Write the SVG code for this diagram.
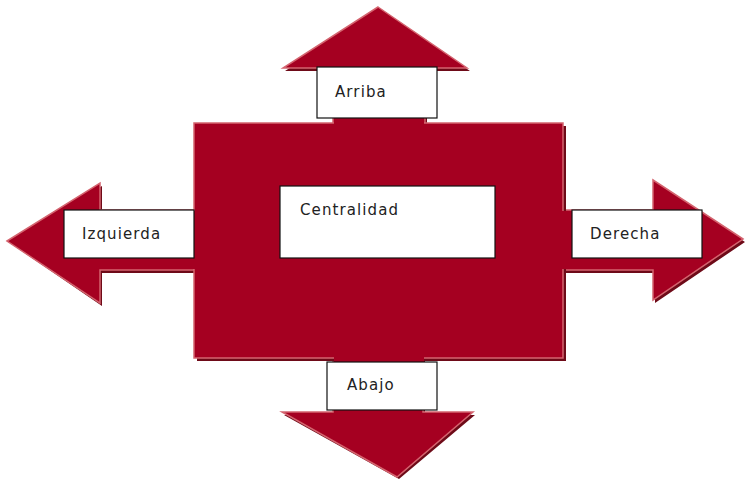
<svg xmlns="http://www.w3.org/2000/svg" width="745" height="479" viewBox="0 0 745 479">
<defs>
<style>
.sh{fill:#6e0a18}
.body{fill:#a50021;stroke:#d4646f;stroke-width:1.5}
.fill{fill:#a50021}
.lbl{fill:#fff;stroke:#111;stroke-width:1.2}
.t{font-family:"DejaVu Sans",Verdana,sans-serif;font-size:15px;fill:#222;letter-spacing:1.1px}
</style>
</defs>
<rect width="745" height="479" fill="#fff"/>
<g id="connectors">
<g id="arrow-up">
<polygon class="sh" points="380,10 470,71 427,71 427,125 335,125 335,71 285,71"/>
<polygon class="body" points="378,7 467,68 425,68 425,123 333,123 333,68 283,68"/>
</g>
<g id="arrow-left">
<polygon class="sh" points="10,243 102,186 102,213 196,213 196,273 102,273 102,306"/>
<polygon class="body" points="7,241 100,183 100,210 194,210 194,270 100,270 100,303"/>
</g>
<g id="arrow-right">
<polygon class="sh" points="745,242 655,183 655,213 565,213 565,273 655,273 655,303"/>
<polygon class="body" points="743,239 653,180 653,210 563,210 563,270 653,270 653,300"/>
</g>
<g id="arrow-down">
<polygon class="sh" points="284,415 335,415 335,360 425,360 425,415 475,415 399,479"/>
<polygon class="body" points="282,412 333,412 333,358 423,358 423,412 473,412 397,477"/>
</g>
</g>
<g id="centro">
<rect x="197" y="126" width="369" height="235" class="sh"/>
<rect x="194" y="123" width="369" height="235" class="body"/>
<rect x="334" y="117" width="90" height="9" class="fill"/>
<rect x="188" y="211" width="10" height="58" class="fill"/>
<rect x="559" y="211" width="10" height="58" class="fill"/>
<rect x="334" y="355" width="90" height="9" class="fill"/>
</g>
<g id="centralidad">
<rect x="280" y="186" width="215" height="72" class="lbl"/>
<text class="t" x="300" y="215">Centralidad</text>
</g>
<g id="arriba">
<rect x="317" y="67" width="120" height="51" class="lbl"/>
<text class="t" x="335" y="97">Arriba</text>
</g>
<g id="izquierda">
<rect x="64" y="210" width="130" height="48" class="lbl"/>
<text class="t" x="82" y="239">Izquierda</text>
</g>
<g id="derecha">
<rect x="572" y="210" width="130" height="48" class="lbl"/>
<text class="t" x="590" y="239">Derecha</text>
</g>
<g id="abajo">
<rect x="327" y="362" width="110" height="48" class="lbl"/>
<text class="t" x="347" y="390">Abajo</text>
</g>
</svg>
